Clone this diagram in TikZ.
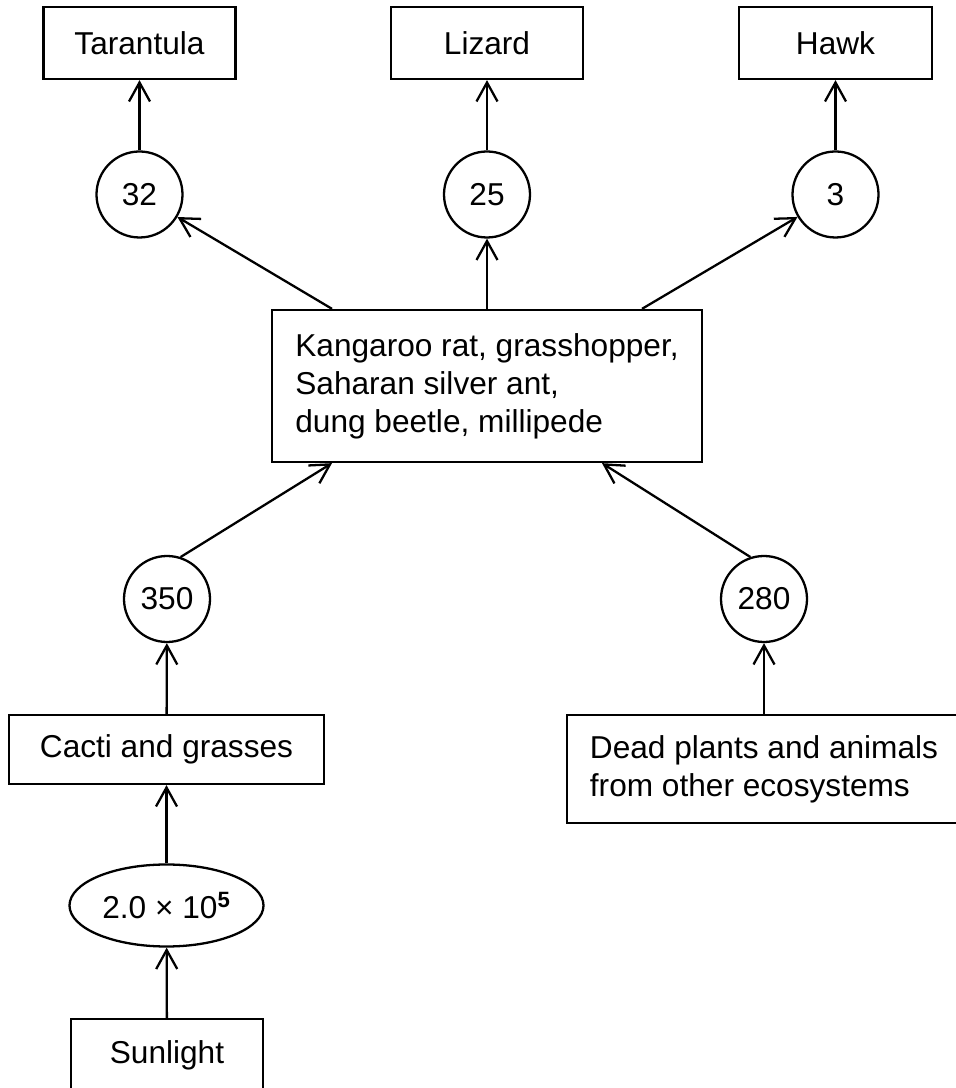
\documentclass[tikz,border=0pt]{standalone}
\usepackage{fontspec}
\setmainfont{Liberation Sans}
\usetikzlibrary{arrows.meta,shapes.geometric}

\begin{document}
\begin{tikzpicture}[
    font=\fontsize{18}{21.6}\selectfont,
    line width=1.3pt,
    box/.style={draw, rectangle, inner sep=0pt, minimum height=1.44cm},
    rate/.style={draw, circle, inner sep=0pt, minimum size=1.72cm},
    flow/.style={-{Straight Barb[length=0.38cm,width=0.42cm]}}
]
    \useasboundingbox (0,0) rectangle (19.12,21.76);
    \clip (0,0) rectangle (19.12,21.76);

    % top consumers
    \node[box, minimum width=3.84cm] (tarantula) at (2.79, 20.9) {Tarantula};
    \node[box, minimum width=3.84cm] (lizard) at (9.74, 20.9) {Lizard};
    \node[box, minimum width=3.86cm] (hawk) at (16.71, 20.9) {Hawk};

    \node[rate] (c32) at (2.79, 17.87) {32};
    \node[rate] (c25) at (9.74, 17.87) {25};
    \node[rate] (c3) at (16.71, 17.87) {3};

    \node[box, minimum width=8.6cm, minimum height=3.04cm, align=left] (consumers) at (9.74, 14.04)
        {Kangaroo rat, grasshopper,\\Saharan silver ant,\\dung beetle, millipede};

    \node[rate] (c350) at (3.34, 9.78) {350};
    \node[rate] (c280) at (15.28, 9.78) {280};

    \node[box, minimum width=6.3cm, minimum height=1.38cm] (cacti) at (3.33, 6.77) {Cacti and grasses};
    \node[box, minimum width=7.88cm, minimum height=2.16cm, align=left] (dead) at (15.28, 6.38)
        {Dead plants and animals\\from other ecosystems};

    \node[draw, ellipse, inner sep=0pt, minimum width=3.88cm, minimum height=1.64cm] (energy) at (3.33, 3.65)
        {2.0 × 10\textsuperscript{\textbf{5}}};
    \node[box, minimum width=3.84cm] (sunlight) at (3.34, 0.66) {Sunlight};

    % flows
    \draw[flow] (sunlight) -- (energy);
    \draw[flow] (energy) -- (cacti);
    \draw[flow] (cacti) -- (c350);
    \draw[flow] (dead) -- (c280);
    \draw[flow] (c350.72) -- ([xshift=-3.1cm]consumers.south);
    \draw[flow] (c280.108) -- ([xshift=2.3cm]consumers.south);
    \draw[flow] ([xshift=-3.1cm]consumers.north) -- (c32);
    \draw[flow] (consumers) -- (c25);
    \draw[flow] ([xshift=3.1cm]consumers.north) -- (c3);
    \draw[flow] (c32) -- (tarantula);
    \draw[flow] (c25) -- (lizard);
    \draw[flow] (c3) -- (hawk);

\end{tikzpicture}
\end{document}
